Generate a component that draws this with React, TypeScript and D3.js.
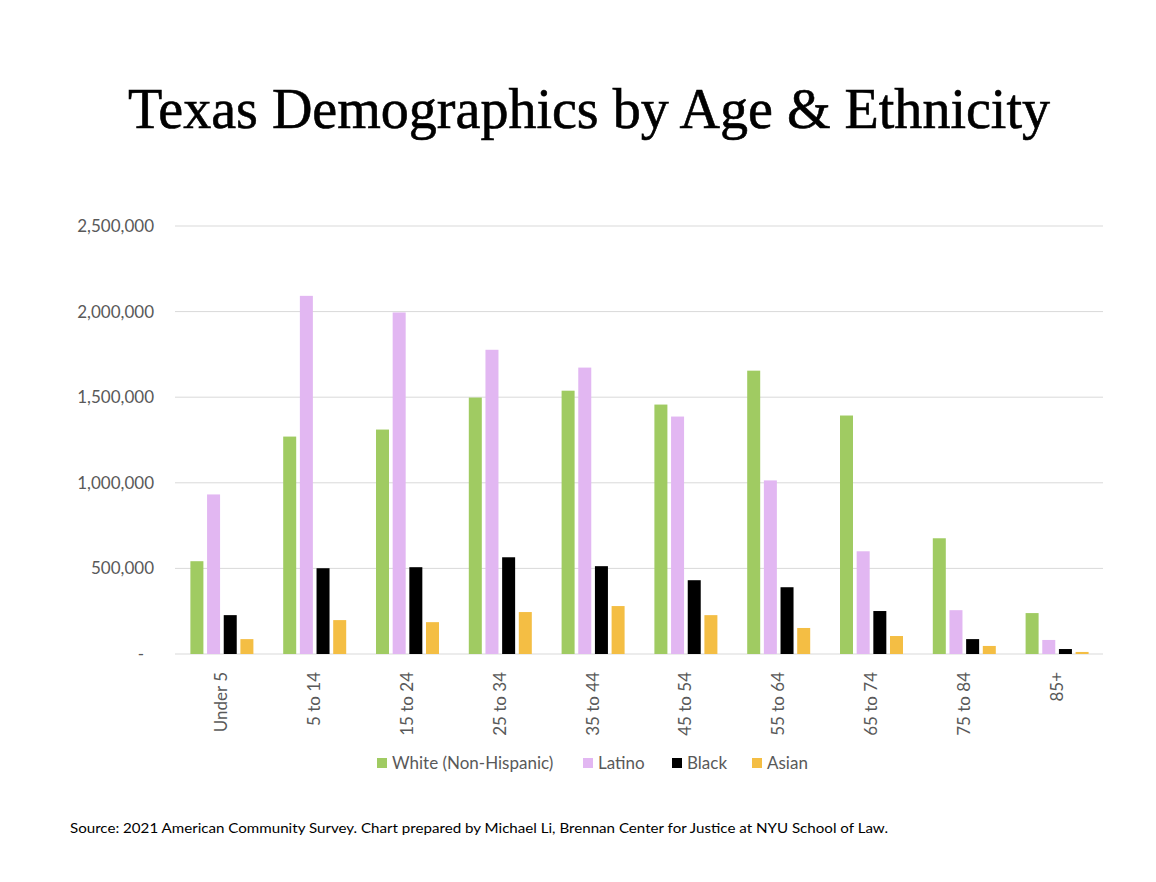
import * as d3 from "d3";

const ageGroups = [
  "Under 5",
  "5 to 14",
  "15 to 24",
  "25 to 34",
  "35 to 44",
  "45 to 54",
  "55 to 64",
  "65 to 74",
  "75 to 84",
  "85+",
];

const seriesNames = ["White (Non-Hispanic)", "Latino", "Black", "Asian"];
const seriesColors = ["#A0CB62", "#E2B7F2", "#000000", "#F4BE44"];

const white = [542000, 1270000, 1311000, 1498000, 1538000, 1457000, 1655000, 1393000, 676000, 239000];
const latino = [932000, 2092000, 1995000, 1777000, 1673000, 1387000, 1014000, 600000, 256000, 82000];
const black = [227000, 501000, 507000, 565000, 513000, 431000, 390000, 251000, 87000, 29000];
const asian = [87000, 198000, 186000, 245000, 280000, 227000, 152000, 105000, 47000, 12000];

const seriesValues = [white, latino, black, asian];
const yTicks = [0, 500000, 1000000, 1500000, 2000000, 2500000];

const W = 1156;
const H = 882;
const plot = { left: 175, right: 1103, top: 226, bottom: 654 };
const labelFont = "Lato, 'Open Sans', sans-serif";
const gray = "#595959";

export default function App() {
  const x0 = d3.scaleBand().domain(ageGroups).range([plot.left, plot.right]);
  const groupW = 63;
  const x1 = d3
    .scaleBand()
    .domain(seriesNames)
    .range([0, groupW])
    .paddingInner(0.22);
  const y = d3.scaleLinear().domain([0, 2500000]).range([plot.bottom, plot.top]);
  const fmt = d3.format(",");

  // legend layout (left x of each swatch)
  const legendX = [377, 583, 672, 752];
  const legendY = 763;

  return (
    <div style={{ position: "absolute", left: 0, top: 0 }}>
      <svg width={W} height={H} style={{ display: "block", background: "#fff" }}>
        <text
          x={128}
          y={128}
          fontFamily="'Liberation Serif', 'DejaVu Serif', serif"
          fontSize={56}
          textLength={922}
          lengthAdjust="spacingAndGlyphs"
          fill="#000"
          stroke="#000"
          strokeWidth={0.6}
        >
          Texas Demographics by Age &amp; Ethnicity
        </text>

        {/* gridlines */}
        {yTicks.map((t) => (
          <line
            key={t}
            x1={plot.left}
            x2={plot.right}
            y1={y(t)}
            y2={y(t)}
            stroke="#D9D9D9"
            strokeWidth={1}
          />
        ))}

        {/* y labels */}
        {yTicks.map((t) => (
          <text
            key={"l" + t}
            x={t === 0 ? 144 : 154}
            y={y(t)}
            dy="0.35em"
            textAnchor="end"
            fontFamily={labelFont}
            fontSize={17}
            fill={gray}
          >
            {t === 0 ? "-" : fmt(t)}
          </text>
        ))}

        {/* bars */}
        {ageGroups.map((g, i) => {
          const gx = (x0(g) ?? 0) + (x0.bandwidth() - groupW) / 2 + 0.5;
          return (
            <g key={g} transform={`translate(${gx},0)`}>
              {seriesNames.map((s, j) => {
                const v = seriesValues[j][i];
                return (
                  <rect
                    key={s}
                    x={x1(s)}
                    y={y(v)}
                    width={x1.bandwidth()}
                    height={plot.bottom - y(v)}
                    fill={seriesColors[j]}
                  />
                );
              })}
            </g>
          );
        })}

        {/* x labels */}
        {ageGroups.map((g) => {
          const cx = (x0(g) ?? 0) + x0.bandwidth() / 2;
          return (
            <text
              key={"x" + g}
              transform={`translate(${cx},672) rotate(-90)`}
              dy="0.35em"
              textAnchor="end"
              fontFamily={labelFont}
              fontSize={17}
              fill={gray}
            >
              {g}
            </text>
          );
        })}

        {/* legend */}
        {seriesNames.map((s, j) => (
          <g key={"lg" + s} transform={`translate(${legendX[j]},${legendY})`}>
            <rect x={0} y={-5} width={10} height={10} fill={seriesColors[j]} />
            <text
              x={15}
              y={0}
              dy="0.35em"
              fontFamily={labelFont}
              fontSize={17}
              fill={gray}
            >
              {s}
            </text>
          </g>
        ))}

        <text
          x={70}
          y={833}
          fontFamily={labelFont}
          fontSize={14}
          textLength={818}
          lengthAdjust="spacingAndGlyphs"
          fill="#000"
        >
          Source: 2021 American Community Survey. Chart prepared by Michael Li, Brennan Center for Justice at NYU School of Law.
        </text>
      </svg>
    </div>
  );
}
